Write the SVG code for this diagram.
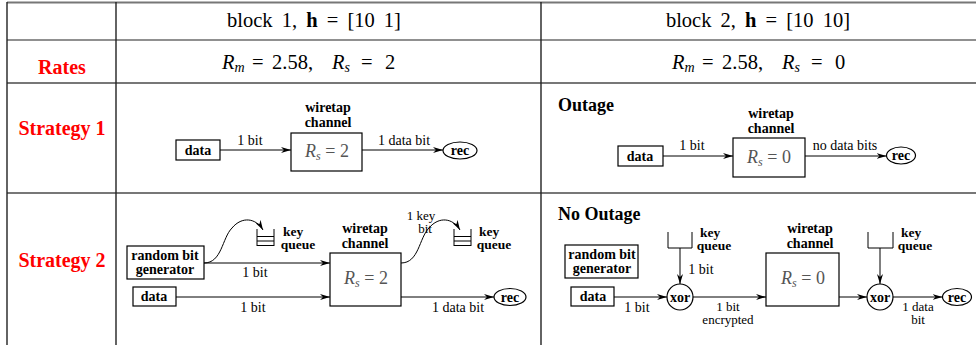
<svg xmlns="http://www.w3.org/2000/svg" width="976" height="345" viewBox="0 0 976 345">
<defs>
<style>
.grid{stroke:#222;stroke-width:1.4;fill:none}
.hg{stroke:#777;stroke-width:2.2;fill:none}
.hd{stroke:#222;stroke-width:1.2;fill:none}
.head{font-family:"Liberation Serif",serif;font-size:20.5px;word-spacing:4px;fill:#000;text-anchor:middle}
.rate{font-family:"Liberation Serif",serif;font-size:20.5px;fill:#000}
.red{font-family:"Liberation Serif",serif;font-size:20px;font-weight:bold;fill:#f00;text-anchor:middle}
.b{font-family:"Liberation Serif",serif;font-size:14px;font-weight:bold;fill:#000;text-anchor:middle}
.k{font-family:"Liberation Serif",serif;font-size:13.5px;font-weight:bold;fill:#000;text-anchor:middle}
.bl{font-family:"Liberation Serif",serif;font-size:18px;font-weight:bold;fill:#000}
.t{font-family:"Liberation Serif",serif;font-size:14px;fill:#000;text-anchor:middle}
.t2{font-family:"Liberation Serif",serif;font-size:13px;fill:#000;text-anchor:middle}
.m{font-family:"Liberation Serif",serif;font-size:18px;fill:#555;text-anchor:middle}
.box{fill:#fff;stroke:#000;stroke-width:1.2}
.ln{stroke:#000;stroke-width:1;fill:none}
</style>
<marker id="ah" viewBox="0 0 10 6" refX="10" refY="3" markerWidth="10" markerHeight="6" markerUnits="userSpaceOnUse" orient="auto">
<path d="M0,0 L10,3 L0,6 L3,3 z" fill="#000"/>
</marker>
</defs>

<g id="table">
<line class="hg" x1="7" y1="2.5" x2="976" y2="2.5"/>
<line class="hd" x1="7" y1="40" x2="976" y2="40"/>
<line class="hg" x1="7" y1="83" x2="976" y2="83"/>
<line class="hg" x1="7" y1="193" x2="976" y2="193"/>
<line class="grid" x1="7" y1="2" x2="7" y2="345"/>
<line class="grid" x1="116" y1="2" x2="116" y2="345"/>
<line class="grid" x1="541" y1="2" x2="541" y2="345"/>
</g>

<g id="headers">
<text class="head" x="314" y="27">block 1, <tspan font-weight="bold">h</tspan> = [10 1]</text>
<text class="head" x="758" y="27">block 2, <tspan font-weight="bold">h</tspan> = [10 10]</text>
<text class="red" x="62" y="74">Rates</text>
<text class="red" x="62" y="135">Strategy 1</text>
<text class="red" x="62" y="267">Strategy 2</text>
<text class="rate" y="69"><tspan x="222" font-style="italic">R</tspan><tspan font-style="italic" font-size="14" dy="3">m</tspan><tspan x="252" dy="-3">=</tspan><tspan x="272">2.58,</tspan><tspan x="332" font-style="italic">R</tspan><tspan font-style="italic" font-size="14" dy="3">s</tspan><tspan x="361" dy="-3">=</tspan><tspan x="385">2</tspan></text>
<text class="rate" y="69"><tspan x="672" font-style="italic">R</tspan><tspan font-style="italic" font-size="14" dy="3">m</tspan><tspan x="702" dy="-3">=</tspan><tspan x="722">2.58,</tspan><tspan x="782" font-style="italic">R</tspan><tspan font-style="italic" font-size="14" dy="3">s</tspan><tspan x="811" dy="-3">=</tspan><tspan x="835">0</tspan></text>
</g>

<!-- Strategy 1, block 1 -->
<g id="s1b1-data"><rect class="box" x="176" y="140" width="44" height="20"/><text class="b" x="198" y="155">data</text></g>
<g id="s1b1-channel"><text class="b" x="328" y="112">wiretap</text><text class="b" x="328" y="127">channel</text><rect class="box" x="291" y="133" width="71" height="38"/><text class="m" x="327" y="157"><tspan font-style="italic">R</tspan><tspan font-style="italic" font-size="12" dy="3">s</tspan><tspan dy="-3"> = 2</tspan></text></g>
<g id="s1b1-rec"><ellipse class="box" cx="460" cy="150.5" rx="17" ry="8.5"/><text class="b" x="460" y="155">rec</text></g>

<!-- Strategy 1, block 2 -->
<text class="bl" x="558" y="111">Outage</text>
<g id="s1b2-data"><rect class="box" x="618" y="146" width="45" height="20"/><text class="b" x="640" y="161">data</text></g>
<g id="s1b2-channel"><text class="b" x="771" y="118">wiretap</text><text class="b" x="771" y="133">channel</text><rect class="box" x="733" y="138" width="72" height="39"/><text class="m" x="769" y="163"><tspan font-style="italic">R</tspan><tspan font-style="italic" font-size="12" dy="3">s</tspan><tspan dy="-3"> = 0</tspan></text></g>
<g id="s1b2-rec"><ellipse class="box" cx="901" cy="155.5" rx="14.5" ry="8.5"/><text class="b" x="901" y="160">rec</text></g>

<!-- Strategy 2, block 1 -->
<g id="s2b1-rbg"><rect class="box" x="127" y="246" width="77" height="33"/><text class="b" x="165" y="260">random bit</text><text class="b" x="165" y="274">generator</text></g>
<g id="s2b1-data"><rect class="box" x="133" y="287" width="43" height="19"/><text class="b" x="154" y="301">data</text></g>
<g id="s2b1-q1"><path class="ln" d="M257,229 V246 M274,229 V246 M257,236.5 H274 M257,241 H274 M257,245.5 H274"/><text class="k" x="293" y="236">key</text><text class="k" x="298" y="249">queue</text></g>
<g id="s2b1-channel"><text class="b" x="365" y="233">wiretap</text><text class="b" x="365" y="248">channel</text><rect class="box" x="330" y="253" width="71" height="53"/><text class="m" x="366" y="284"><tspan font-style="italic">R</tspan><tspan font-style="italic" font-size="12" dy="3">s</tspan><tspan dy="-3"> = 2</tspan></text></g>
<g id="s2b1-q2"><path class="ln" d="M454,229 V246 M471,229 V246 M454,236.5 H471 M454,241 H471 M454,245.5 H471"/><text class="k" x="489" y="236">key</text><text class="k" x="494" y="249">queue</text></g>
<g id="s2b1-rec"><ellipse class="box" cx="510" cy="297" rx="16" ry="8.5"/><text class="b" x="510" y="301.5">rec</text></g>

<!-- Strategy 2, block 2 -->
<text class="bl" x="558" y="220">No Outage</text>
<g id="s2b2-rbg"><rect class="box" x="565" y="245" width="73" height="33"/><text class="b" x="602" y="259">random bit</text><text class="b" x="602" y="273">generator</text></g>
<g id="s2b2-data"><rect class="box" x="571" y="287" width="43" height="19"/><text class="b" x="593" y="301">data</text></g>
<g id="s2b2-q1"><path class="ln" d="M668,232 V248 H692 V232"/><text class="k" x="710" y="237">key</text><text class="k" x="714" y="250">queue</text></g>
<g id="s2b2-xor1"><circle class="box" cx="680" cy="297" r="13"/><text class="b" x="680" y="301.5">xor</text></g>
<g id="s2b2-channel"><text class="b" x="810" y="233">wiretap</text><text class="b" x="810" y="248">channel</text><rect class="box" x="766" y="253" width="73" height="53"/><text class="m" x="803" y="284"><tspan font-style="italic">R</tspan><tspan font-style="italic" font-size="12" dy="3">s</tspan><tspan dy="-3"> = 0</tspan></text></g>
<g id="s2b2-q2"><path class="ln" d="M868,232 V248 H893 V232"/><text class="k" x="911" y="237">key</text><text class="k" x="915" y="250">queue</text></g>
<g id="s2b2-xor2"><circle class="box" cx="880" cy="297" r="13"/><text class="b" x="880" y="301.5">xor</text></g>
<g id="s2b2-rec"><ellipse class="box" cx="957" cy="297" rx="14.5" ry="8.5"/><text class="b" x="957" y="301.5">rec</text></g>

<g id="connectors">
<line class="ln" x1="220" y1="150" x2="291" y2="150" marker-end="url(#ah)"/>
<line class="ln" x1="362" y1="150" x2="443" y2="150" marker-end="url(#ah)"/>
<line class="ln" x1="663" y1="156" x2="733" y2="156" marker-end="url(#ah)"/>
<line class="ln" x1="805" y1="156" x2="886.5" y2="156" marker-end="url(#ah)"/>
<line class="ln" x1="204" y1="263" x2="330" y2="263" marker-end="url(#ah)"/>
<line class="ln" x1="176" y1="297" x2="330" y2="297" marker-end="url(#ah)"/>
<line class="ln" x1="401" y1="297" x2="494" y2="297" marker-end="url(#ah)"/>
<path class="ln" d="M204,263 C222,263 222,238 232,228 C242,216 256,218 263,230" marker-end="url(#ah)"/>
<path class="ln" d="M401,263 C419,263 419,238 429,228 C439,216 453,218 460,230" marker-end="url(#ah)"/>
<line class="ln" x1="614" y1="297" x2="667" y2="297" marker-end="url(#ah)"/>
<line class="ln" x1="680" y1="248" x2="680" y2="284" marker-end="url(#ah)"/>
<line class="ln" x1="693" y1="297" x2="766" y2="297" marker-end="url(#ah)"/>
<line class="ln" x1="839" y1="297" x2="867" y2="297" marker-end="url(#ah)"/>
<line class="ln" x1="880" y1="248" x2="880" y2="284" marker-end="url(#ah)"/>
<line class="ln" x1="893" y1="297" x2="942.5" y2="297" marker-end="url(#ah)"/>
</g>

<g id="labels">
<text class="t" x="250" y="145">1 bit</text>
<text class="t" x="404" y="145">1 data bit</text>
<text class="t" x="692" y="150">1 bit</text>
<text class="t" x="845" y="150">no data bits</text>
<text class="t" x="255" y="277">1 bit</text>
<text class="t" x="253" y="312">1 bit</text>
<text class="t" x="458" y="312">1 data bit</text>
<text class="t2" x="421" y="220">1 key</text>
<text class="t2" x="425" y="232.5">bit</text>
<text class="t" x="701" y="274">1 bit</text>
<text class="t" x="637" y="312">1 bit</text>
<text class="t2" x="728" y="311">1 bit</text>
<text class="t2" x="728" y="323.5">encrypted</text>
<text class="t2" x="918" y="311">1 data</text>
<text class="t2" x="918" y="323.5">bit</text>
</g>
</svg>
